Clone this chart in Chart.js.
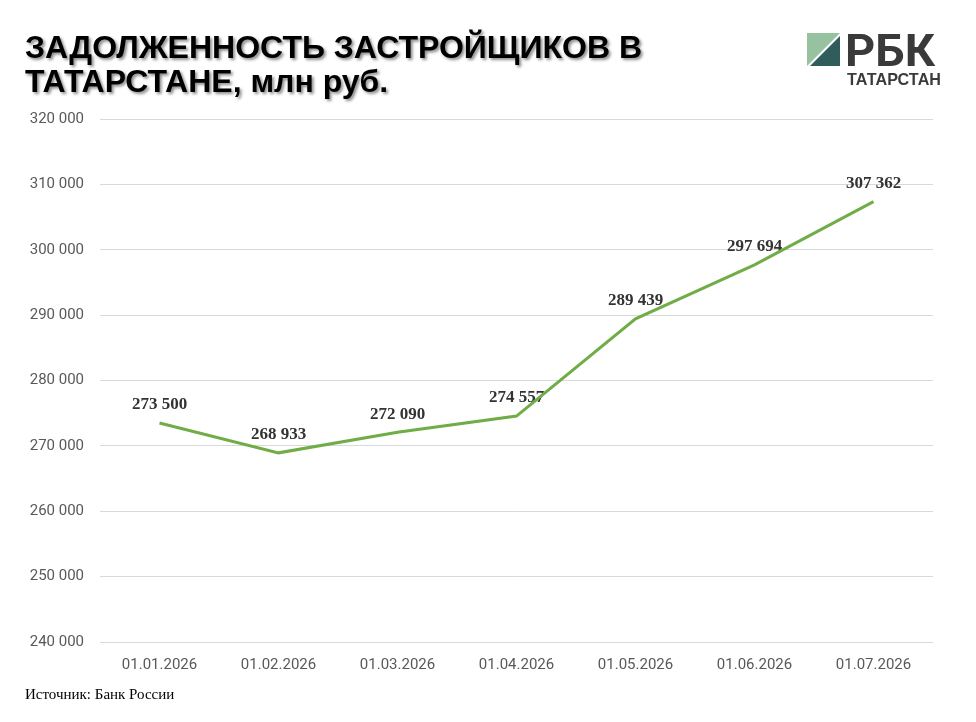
<!DOCTYPE html>
<html lang="ru">
<head>
<meta charset="utf-8">
<title>Задолженность застройщиков в Татарстане</title>
<script src="https://cdn.jsdelivr.net/npm/chart.js@4/dist/chart.umd.min.js"></script>
<style>
    html, body { margin: 0; padding: 0; background: #fff; }
    #page { position: relative; width: 976px; height: 722px; overflow: hidden; }
    #chartBox { position: absolute; left: 0; top: 0; width: 976px; height: 722px; }
    #title {
        position: absolute; left: 25px; top: 30px; margin: 0;
        font-family: "Liberation Sans", sans-serif;
        font-weight: bold; font-size: 32px; line-height: 34px; color: #000;
        text-shadow: 2px 2px 3px rgba(0, 0, 0, 0.45);
        white-space: nowrap;
    }
    #logo { position: absolute; left: 800px; top: 26px; }
    #source {
        position: absolute; left: 25px; top: 686px;
        font-family: "Liberation Serif", serif; font-size: 15px; color: #000;
    }
</style>
</head>
<body>
<div id="page">
    <div id="chartBox"><canvas id="myChart"></canvas></div>
    <h1 id="title">ЗАДОЛЖЕННОСТЬ ЗАСТРОЙЩИКОВ В<br>ТАТАРСТАНЕ, млн руб.</h1>
    <svg id="logo" width="150" height="66" viewBox="0 0 150 66">
        <polygon points="7,7 40,7 7,40" fill="#97c29f"/>
        <polygon points="40,10 40,40 10,40" fill="#2f5d5b"/>
        <text x="45" y="40" font-family="Roboto, 'Liberation Sans', sans-serif" font-weight="bold" font-size="45" fill="#3a3a3a"
              textLength="90" lengthAdjust="spacingAndGlyphs">РБК</text>
        <text x="47" y="59" font-family="'Liberation Sans', sans-serif" font-weight="bold" font-size="17" fill="#3a3a3a"
              textLength="94" lengthAdjust="spacingAndGlyphs">ТАТАРСТАН</text>
    </svg>
    <div id="source">Источник: Банк России</div>
</div>
<script>
const dates = ['01.01.2026', '01.02.2026', '01.03.2026', '01.04.2026', '01.05.2026', '01.06.2026', '01.07.2026'];
const debt = [273500, 268933, 272090, 274557, 289439, 297694, 307362];

const Y_MIN = 240000;
const Y_MAX = 320000;
const Y_STEP = 10000;

function formatNumber(n) {
    return String(n).replace(/\B(?=(\d{3})+(?!\d))/g, ' ');
}

// values above the points, drawn before the line so the line sits on top
const valueLabels = {
    id: 'valueLabels',
    beforeDatasetsDraw(chart) {
        const ctx = chart.ctx;
        const meta = chart.getDatasetMeta(0);
        ctx.save();
        ctx.font = 'bold 17px "Liberation Serif", serif';
        ctx.fillStyle = '#333333';
        ctx.textAlign = 'center';
        ctx.textBaseline = 'middle';
        meta.data.forEach((pt, i) => {
            ctx.fillText(formatNumber(debt[i]), pt.x, pt.y - 18);
        });
        ctx.restore();
    }
};

const tickFont = { family: 'Roboto, "Liberation Sans", sans-serif', size: 15 };

const ctx = document.getElementById('myChart').getContext('2d');
new Chart(ctx, {
    type: 'line',
    data: {
        labels: dates,
        datasets: [{
            data: debt,
            borderColor: '#70ad47',
            borderWidth: 3,
            pointRadius: 0,
            pointHoverRadius: 0,
            tension: 0,
            fill: false
        }]
    },
    options: {
        responsive: true,
        maintainAspectRatio: false,
        animation: false,
        layout: { padding: { top: 119, right: 43, bottom: 34, left: 0 } },
        plugins: {
            legend: { display: false },
            tooltip: { enabled: false }
        },
        scales: {
            x: {
                offset: true,
                grid: { display: false, drawTicks: false },
                border: { display: false },
                ticks: { color: '#595959', font: tickFont, padding: 14, maxRotation: 0 }
            },
            y: {
                min: Y_MIN,
                max: Y_MAX,
                grid: { color: '#d9d9d9', lineWidth: 1, drawTicks: false },
                border: { display: false },
                ticks: {
                    stepSize: Y_STEP,
                    color: '#595959',
                    font: tickFont,
                    padding: 16,
                    callback: v => formatNumber(v)
                },
                afterFit(scale) { scale.width = 100; }
            }
        }
    },
    plugins: [valueLabels]
});
</script>
</body>
</html>
